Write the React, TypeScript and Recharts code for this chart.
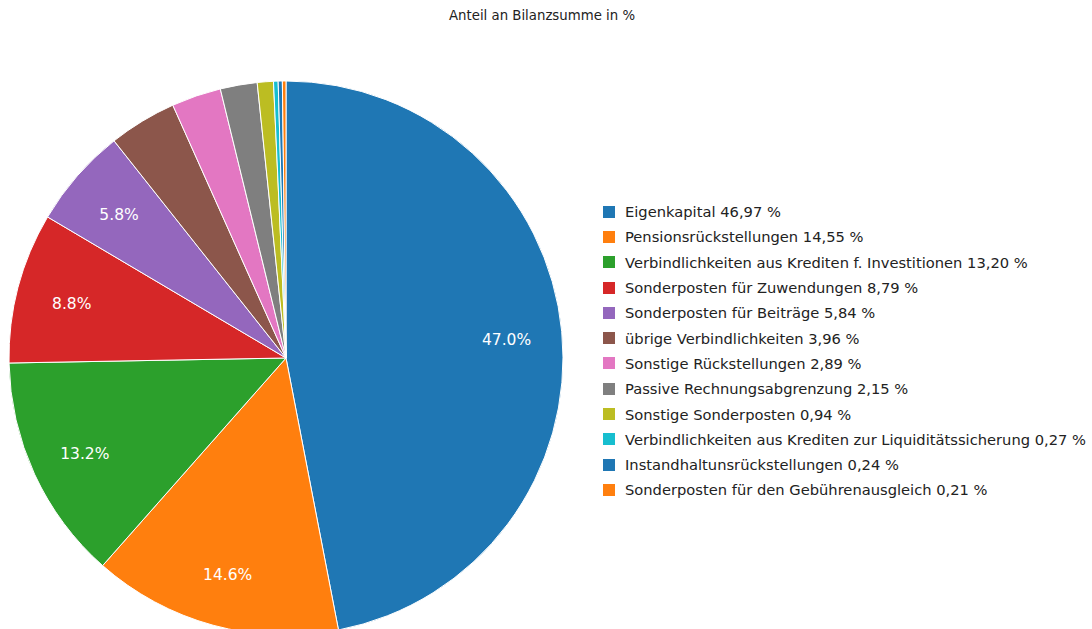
import { PieChart, Pie, Cell, Legend } from "recharts";

const categories = [
  "Eigenkapital",
  "Pensionsrückstellungen",
  "Verbindlichkeiten aus Krediten f. Investitionen",
  "Sonderposten für Zuwendungen",
  "Sonderposten für Beiträge",
  "übrige Verbindlichkeiten",
  "Sonstige Rückstellungen",
  "Passive Rechnungsabgrenzung",
  "Sonstige Sonderposten",
  "Verbindlichkeiten aus Krediten zur Liquiditätssicherung",
  "Instandhaltunsrückstellungen",
  "Sonderposten für den Gebührenausgleich",
];

const shares = [46.97, 14.55, 13.2, 8.79, 5.84, 3.96, 2.89, 2.15, 0.94, 0.27, 0.24, 0.21];

const colors = [
  "#1f77b4", "#ff7f0e", "#2ca02c", "#d62728", "#9467bd", "#8c564b",
  "#e377c2", "#7f7f7f", "#bcbd22", "#17becf", "#1f77b4", "#ff7f0e",
];

const data = categories.map((name, i) => ({ name, value: shares[i] }));

const FONT = "'DejaVu Sans', Verdana, sans-serif";
const RAD = Math.PI / 180;

const renderLabel = (props: any) => {
  const { cx, cy, midAngle, outerRadius, value } = props;
  if (value < 5) return null;
  const r = outerRadius * 0.8;
  const x = cx + r * Math.cos(-midAngle * RAD);
  const y = cy + r * Math.sin(-midAngle * RAD) + 3;
  return (
    <text
      x={x}
      y={y}
      fill="#fff"
      textAnchor="middle"
      dominantBaseline="central"
      fontSize={15.5}
      fontFamily={FONT}
    >
      {value.toFixed(1)}%
    </text>
  );
};

const renderLegend = () => (
  <div style={{ fontFamily: FONT, fontSize: 14.7, color: "#222" }}>
    {data.map((d, i) => (
      <div key={i} style={{ display: "flex", alignItems: "center", height: 25.3 }}>
        <span
          style={{
            display: "inline-block",
            width: 12,
            height: 12,
            background: colors[i],
            marginRight: 10,
            flexShrink: 0,
          }}
        />
        <span style={{ whiteSpace: "nowrap" }}>
          {d.name} {d.value.toFixed(2).replace(".", ",")} %
        </span>
      </div>
    ))}
  </div>
);

export default function App() {
  return (
    <div style={{ position: "absolute", left: 0, top: 0, width: 1092, height: 629, background: "#fff", overflow: "hidden" }}>
      <div
        style={{
          position: "absolute",
          top: 8,
          left: 0,
          width: 1092,
          textAlign: "center",
          fontFamily: FONT,
          fontSize: 13.3,
          color: "#222",
        }}
      >
        <span style={{ position: "relative", left: -4 }}>Anteil an Bilanzsumme in %</span>
      </div>
      <PieChart width={1092} height={629} margin={{ top: 0, right: 0, bottom: 0, left: 0 }}>
        <Pie
          data={data}
          dataKey="value"
          nameKey="name"
          cx={286}
          cy={358}
          outerRadius={277}
          startAngle={90}
          endAngle={-270}
          stroke="#fff"
          strokeWidth={1}
          label={renderLabel}
          labelLine={false}
          isAnimationActive={false}
        >
          {data.map((_, i) => (
            <Cell key={i} fill={colors[i]} />
          ))}
        </Pie>
        <Legend
          content={renderLegend}
          layout="vertical"
          wrapperStyle={{ position: "absolute", left: 603, top: 199, width: 489 }}
        />
      </PieChart>
    </div>
  );
}
